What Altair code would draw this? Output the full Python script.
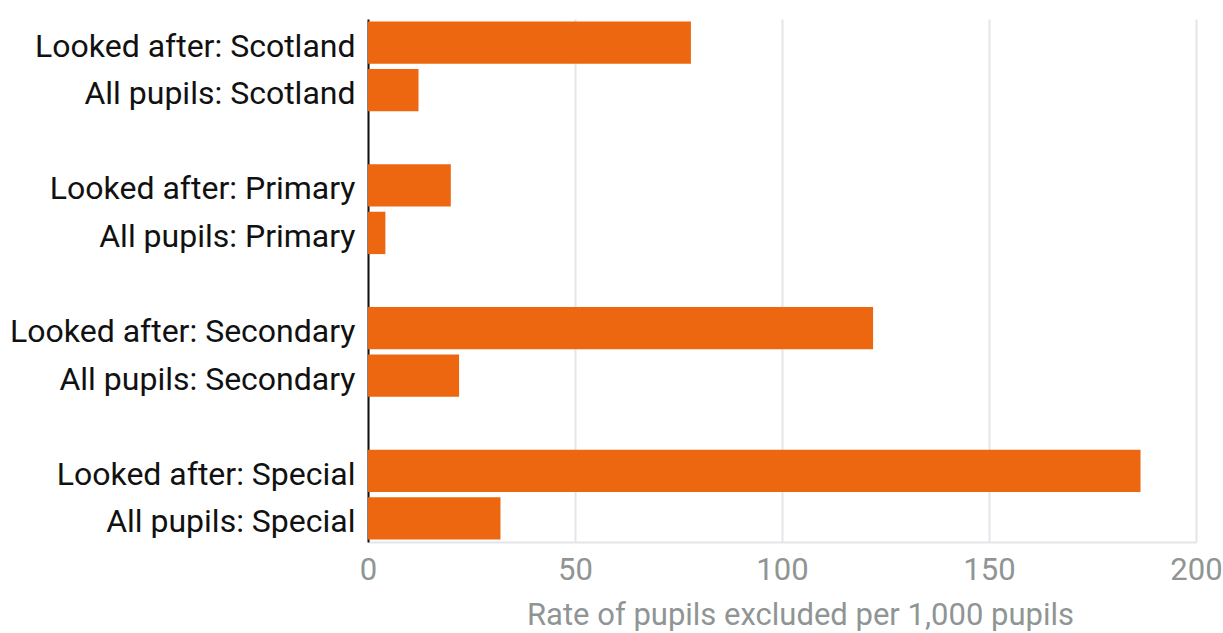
import altair as alt
import pandas as pd

categories = [
    "Looked after: Scotland", "All pupils: Scotland",
    "Looked after: Primary", "All pupils: Primary",
    "Looked after: Secondary", "All pupils: Secondary",
    "Looked after: Special", "All pupils: Special",
]
values = [78, 12.2, 20, 4.2, 122, 22, 186.6, 32]

domain = [
    "Looked after: Scotland", "All pupils: Scotland", "gap1",
    "Looked after: Primary", "All pupils: Primary", "gap2",
    "Looked after: Secondary", "All pupils: Secondary", "gap3",
    "Looked after: Special", "All pupils: Special",
]

df = pd.DataFrame({"category": categories, "value": values})

chart = alt.Chart(df).mark_bar(color="#ec670f").encode(
    x=alt.X("value:Q",
            scale=alt.Scale(domain=[0, 200], nice=False),
            axis=alt.Axis(values=[0, 50, 100, 150, 200],
                          title="Rate of pupils excluded per 1,000 pupils",
                          grid=True, gridColor="#e3e5e8", gridWidth=2,
                          domain=True, domainColor="#e3e5e8", domainWidth=2,
                          ticks=False, labelFont="Roboto", labelFontSize=31,
                          labelColor="#8f9595", labelPadding=13, labelFlush=False,
                          labelOverlap=False,
                          titleFont="Roboto", titleFontSize=31, titleFontWeight="normal",
                          titleColor="#8f9595", titlePadding=15, titleX=432)),
    y=alt.Y("category:N",
            scale=alt.Scale(domain=domain, paddingInner=0.11, paddingOuter=0.05),
            axis=alt.Axis(title=None, ticks=False, grid=False,
                          domain=True, domainColor="#111111", domainWidth=2,
                          labelFont="Roboto", labelFontSize=32, labelColor="#111111",
                          labelPadding=13, labelLimit=400, labelOffset=4,
                          labelExpr="indexof(datum.value, 'gap') == 0 ? '' : datum.value")),
).properties(
    width=828, height=523,
    autosize=alt.AutoSizeParams(type="none"),
    padding={"left": 368, "top": 19, "right": 27, "bottom": 91},
).configure_view(stroke=None)

chart.save("out.html", embed_options={"renderer": "svg", "actions": False})
